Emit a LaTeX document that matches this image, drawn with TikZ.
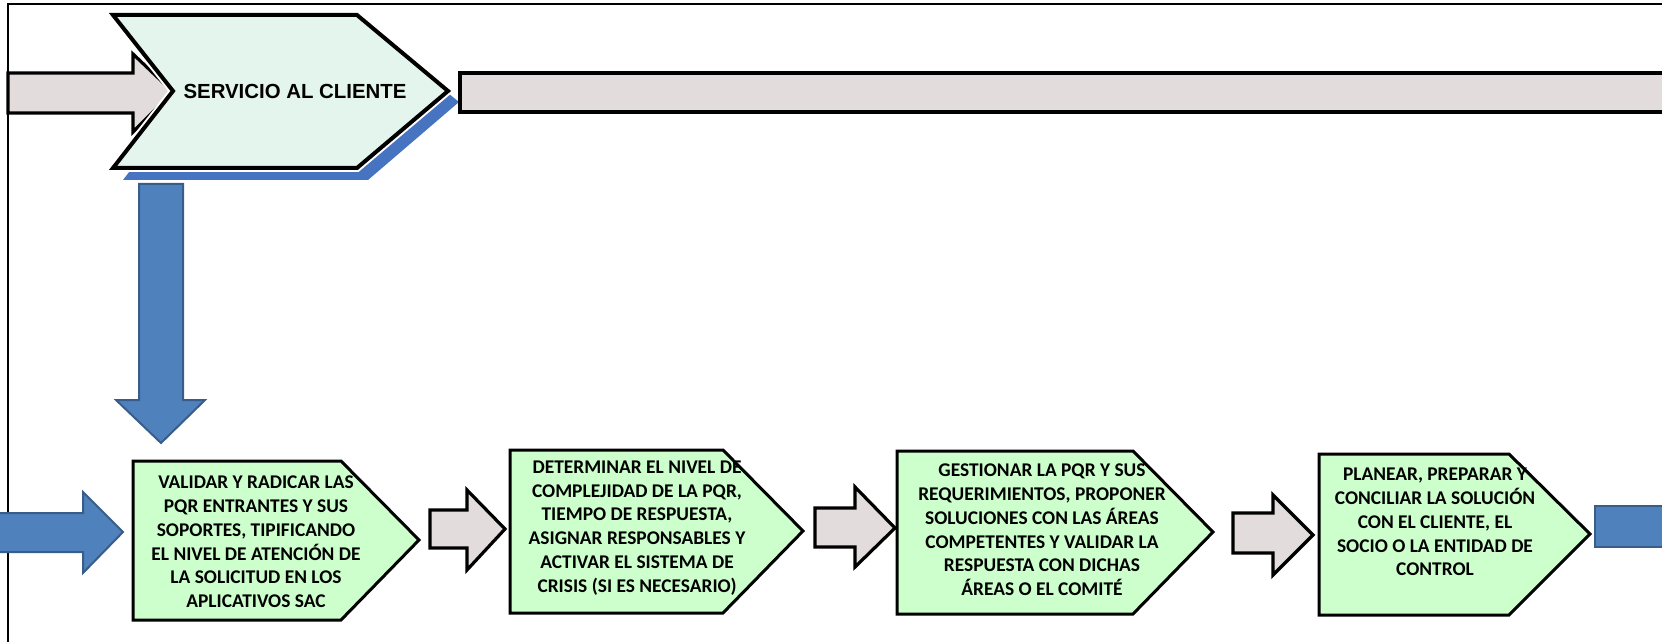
\documentclass[tikz,border=0pt]{standalone}
\usepackage{fontspec}
\setmainfont{Carlito}
\newfontfamily\arialfont{Liberation Sans}
\definecolor{grayfill}{RGB}{227,220,220}
\definecolor{mint}{RGB}{228,245,238}
\definecolor{shadowblue}{RGB}{70,116,192}
\definecolor{blueA}{RGB}{79,129,189}
\definecolor{blueB}{RGB}{56,93,138}
\definecolor{boxgreen}{RGB}{204,255,204}
\begin{document}
\begin{tikzpicture}[x=0.5pt,y=-0.5pt,
  graybar/.style={fill=grayfill,draw=black,line width=1.6pt,line join=miter},
  bluearrow/.style={fill=blueA,draw=blueB,line width=1pt,line join=miter},
  stepbox/.style={fill=boxgreen,draw=black,line width=1.5pt,line join=miter},
  boxtext/.style={align=center,inner sep=0pt,font=\bfseries\fontsize{9.7}{11.9}\selectfont},
  chevtext/.style={inner sep=0pt,font=\arialfont\bfseries\fontsize{10.2}{12}\selectfont}]
\useasboundingbox (0,0) rectangle (1662,642);
\clip (0,0) rectangle (1662,642);
% frame
\draw[line width=0.75pt] (8,642) -- (8,4) -- (1662,4);
% top input arrow
\draw[graybar] (8,73) -- (133,73) -- (133,54) -- (173,92) -- (133,132) -- (133,113) -- (8,113) -- cycle;
% chevron shadow
\fill[shadowblue] (123,28) -- (368,28) -- (459,102) -- (368,180) -- (123,180) -- (183,102) -- cycle;
% chevron
\draw[white,line width=4pt,line join=miter] (113,15) -- (357,15) -- (448,91) -- (357,168) -- (113,168) -- (173,91) -- cycle;
\draw[fill=mint,draw=black,line width=2pt,line join=miter] (113,15) -- (357,15) -- (448,91) -- (357,168) -- (113,168) -- (173,91) -- cycle;
\node[chevtext] (sac) at (295,91) {SERVICIO AL CLIENTE};
% top bar
\draw[graybar,line width=1.8pt] (460,73) rectangle (1680,112);
% down arrow
\draw[bluearrow] (139,184) -- (183,184) -- (183,400) -- (205,400) -- (161,443) -- (116,400) -- (139,400) -- cycle;
% bottom-left blue arrow
\draw[bluearrow] (-5,513) -- (83,513) -- (83,492) -- (123,532) -- (83,573) -- (83,552) -- (-5,552) -- cycle;
% boxes
\draw[stepbox] (133,461) -- (341,461) -- (419,540) -- (341,620) -- (133,620) -- cycle;
\draw[stepbox] (510,450) -- (723,450) -- (803,531) -- (723,613) -- (510,613) -- cycle;
\draw[stepbox] (897,451) -- (1133,451) -- (1213,532) -- (1133,614) -- (897,614) -- cycle;
\draw[stepbox] (1319,454) -- (1509,454) -- (1590,534) -- (1509,615) -- (1319,615) -- cycle;
% gray arrows between boxes
\draw[graybar] (430,510) -- (467,510) -- (467,490) -- (505,529) -- (467,570) -- (467,548) -- (430,548) -- cycle;
\draw[graybar] (815,508) -- (855,508) -- (855,487) -- (895,528) -- (855,567) -- (855,547) -- (815,547) -- cycle;
\draw[graybar] (1233,513) -- (1273,513) -- (1273,495) -- (1313,535) -- (1273,575) -- (1273,553) -- (1233,553) -- cycle;
% right blue bar
\draw[bluearrow] (1595,506) rectangle (1680,547);
% texts
\node[boxtext] (b1) at (256,542) {VALIDAR Y RADICAR LAS\\PQR ENTRANTES Y SUS\\SOPORTES, TIPIFICANDO\\EL NIVEL DE ATENCIÓN DE\\LA SOLICITUD EN LOS\\APLICATIVOS SAC};
\node[boxtext] (b2) at (637,528) {DETERMINAR EL NIVEL DE\\COMPLEJIDAD DE LA PQR,\\TIEMPO DE RESPUESTA,\\ASIGNAR RESPONSABLES Y\\ACTIVAR EL SISTEMA DE\\CRISIS (SI ES NECESARIO)};
\node[boxtext] (b3) at (1042,530) {GESTIONAR LA PQR Y SUS\\REQUERIMIENTOS, PROPONER\\SOLUCIONES CON LAS ÁREAS\\COMPETENTES Y VALIDAR LA\\RESPUESTA CON DICHAS\\ÁREAS O EL COMITÉ};
\node[boxtext] (b4) at (1435,522) {PLANEAR, PREPARAR Y\\CONCILIAR LA SOLUCIÓN\\CON EL CLIENTE, EL\\SOCIO O LA ENTIDAD DE\\CONTROL};
\end{tikzpicture}
\end{document}
